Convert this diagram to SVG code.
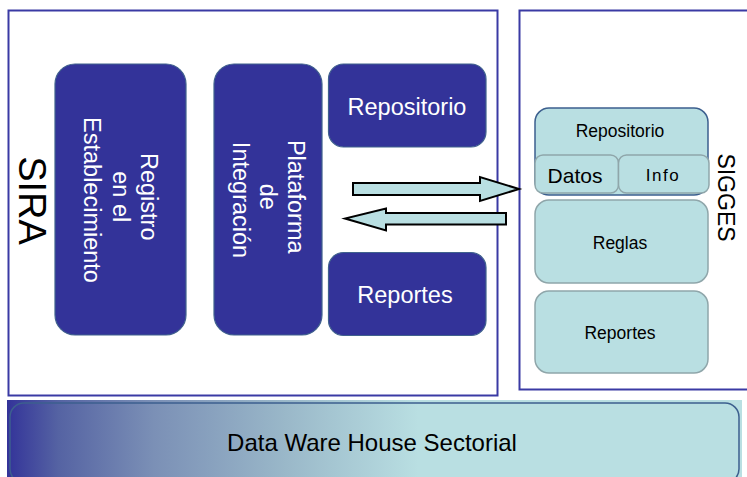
<svg xmlns="http://www.w3.org/2000/svg" width="747" height="477" viewBox="0 0 747 477">
  <style>
    text { font-family: "Liberation Sans", Arial, sans-serif; }
    .frame { fill: #ffffff; stroke: #3a3aa4; stroke-width: 2; }
    .dark { fill: #333399; stroke: #40628e; stroke-width: 1.2; }
    .light { fill: #b9dfe2; stroke: #8fa6aa; stroke-width: 1.5; }
    .lightb { fill: #b9dfe2; stroke: #3c5f8e; stroke-width: 1.5; }
    .wt { fill: #ffffff; font-size: 23.5px; text-anchor: middle; }
    .bt { fill: #000000; text-anchor: middle; }
    .arrow { fill: #b9dfe2; stroke: #000000; stroke-width: 2; stroke-linejoin: miter; }
  </style>
  <defs>
    <linearGradient id="dwh" x1="7" y1="0" x2="742" y2="0" gradientUnits="userSpaceOnUse">
      <stop offset="0" stop-color="#333399"/>
      <stop offset="0.07" stop-color="#5563a3"/>
      <stop offset="0.2" stop-color="#7b90b6"/>
      <stop offset="0.38" stop-color="#9ab8c9"/>
      <stop offset="0.56" stop-color="#b9dfe2"/>
      <stop offset="1" stop-color="#b9dfe2"/>
    </linearGradient>
  </defs>

  <g id="sira">
    <rect class="frame" x="8.5" y="10.5" width="489" height="385"/>
    <text transform="rotate(90)" x="200.5" y="-19" style="font-size:38px;text-anchor:middle;fill:#000">SIRA</text>
  </g>

  <g id="sigges">
    <rect class="frame" x="519.5" y="10.5" width="240" height="379"/>
    <text transform="rotate(90)" x="197.5" y="-718" style="font-size:23px;text-anchor:middle;fill:#000">SIGGES</text>
  </g>

  <g id="registro">
    <rect class="dark" x="55" y="64" width="131" height="271" rx="20"/>
    <text class="wt" transform="rotate(90)">
      <tspan x="200" y="-141">Registro</tspan>
      <tspan x="200" y="-113">en el</tspan>
      <tspan x="200" y="-84">Establecimiento</tspan>
    </text>
  </g>

  <g id="plataforma">
    <rect class="dark" x="214" y="64" width="108" height="271" rx="20"/>
    <text class="wt" transform="rotate(90)">
      <tspan x="200" y="-288">Plataforma</tspan>
      <tspan x="200" y="-260">de</tspan>
      <tspan x="200" y="-233">Integración</tspan>
    </text>
  </g>

  <g id="repositorio-sira">
    <rect class="dark" x="328.5" y="64" width="157.5" height="83" rx="15"/>
    <text class="wt" x="407" y="115">Repositorio</text>
  </g>

  <g id="reportes-sira">
    <rect class="dark" x="328.5" y="252.5" width="157.5" height="83" rx="15"/>
    <text class="wt" x="405" y="303">Reportes</text>
  </g>

  <g id="repositorio-sigges">
    <rect class="lightb" x="535" y="108" width="173" height="87" rx="14"/>
    <text class="bt" x="620" y="137" style="font-size:17.5px">Repositorio</text>
  </g>

  <g id="datos">
    <rect class="light" x="535" y="155" width="83.5" height="38" rx="8"/>
    <text class="bt" x="575" y="183" style="font-size:21px">Datos</text>
  </g>

  <g id="info">
    <rect class="light" x="618.5" y="155" width="90.5" height="38" rx="8"/>
    <text class="bt" x="663" y="181" style="font-size:17px;letter-spacing:1.5px">Info</text>
  </g>

  <g id="reglas">
    <rect class="light" x="535" y="200" width="173" height="83" rx="14"/>
    <text class="bt" x="620" y="249" style="font-size:17.5px">Reglas</text>
  </g>

  <g id="reportes-sigges">
    <rect class="light" x="535" y="291" width="173" height="82" rx="14"/>
    <text class="bt" x="620" y="339" style="font-size:17.5px">Reportes</text>
  </g>

  <g id="dwh">
    <rect x="7" y="400" width="735" height="80" fill="url(#dwh)"/>
    <rect x="10" y="403" width="729" height="80" rx="14" fill="none" stroke="#3c5f8e" stroke-width="1.5"/>
    <text class="bt" x="372" y="451" style="font-size:24px">Data Ware House Sectorial</text>
  </g>

  <g id="connectors">
    <polygon class="arrow" points="353,183 480,183 480,177 519,189 480,201 480,195 353,195"/>
    <polygon class="arrow" points="506,213 386,213 386,208.5 345,218.5 386,230.5 386,224.5 506,224.5"/>
  </g>
</svg>
